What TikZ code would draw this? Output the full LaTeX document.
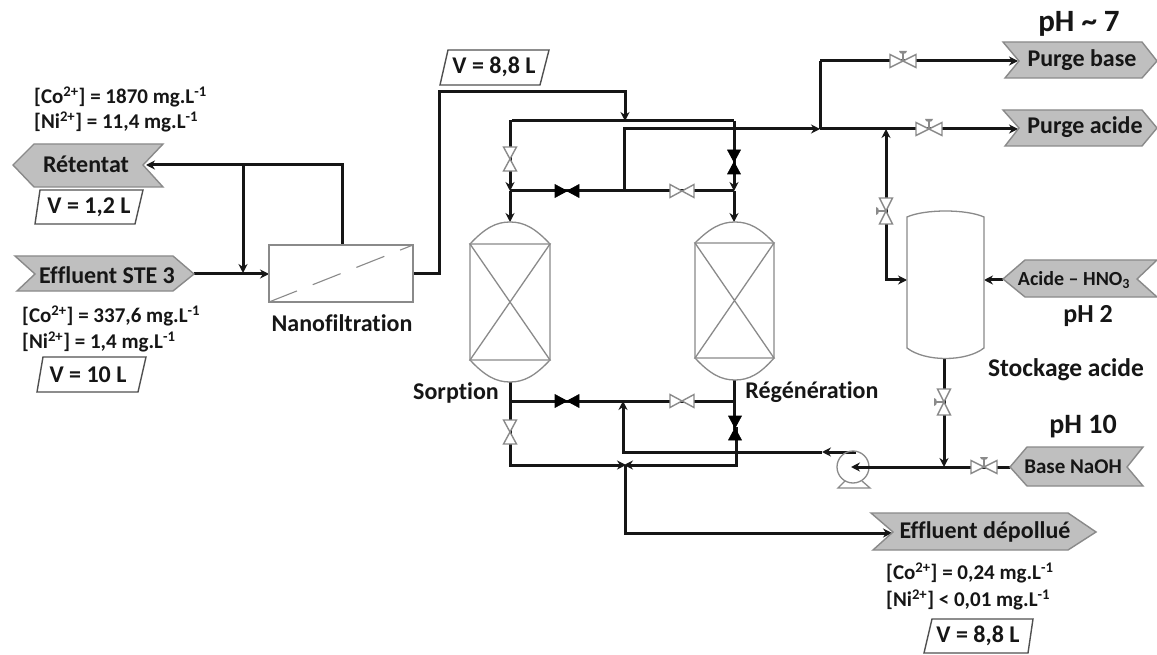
\documentclass[tikz,border=0pt]{standalone}
\usepackage{fontspec}
\setmainfont{Carlito}[BoldFont={Carlito Bold},Ligatures=NoCommon]
\usetikzlibrary{arrows.meta}
\definecolor{tagfill}{HTML}{BFBFBF}
\definecolor{edgegray}{HTML}{8A8A8A}
\definecolor{ink}{HTML}{161616}
\tikzset{
  pipe/.style={line width=3pt,draw=ink,line join=miter},
  pipea/.style={pipe,-{Stealth[length=9pt,width=9pt]}},
  tagshape/.style={fill=tagfill,draw=edgegray,line width=1.4pt,line join=miter},
  volbox/.style={fill=white,draw=ink!75,line width=1.4pt},
  vessel/.style={draw=edgegray,line width=1.3pt,fill=white},
  txt/.style={text=ink,font=\bfseries\fontsize{24}{26}\selectfont,inner sep=0pt},
  conc/.style={text=ink,font=\bfseries\fontsize{21}{24}\selectfont,inner sep=0pt,anchor=west},
  openv/.style={draw=edgegray,line width=1.4pt,fill=white,line join=miter},
  fillv/.style={draw=black,line width=.6pt,fill=black,line join=miter},
}
% name, x, y, angle, style
\newcommand{\valve}[5]{%
  \coordinate (#1) at (#2,#3);
  \begin{scope}[shift={(#2,#3)},rotate=#4]
    \draw[#5] (-12,-6.5)--(-12,6.5)--(12,-6.5)--(12,6.5)--cycle;
  \end{scope}}
\newcommand{\cvalve}[4]{%
  \coordinate (#1) at (#2,#3);
  \begin{scope}[shift={(#2,#3)},rotate=#4]
    \draw[openv] (-13,-6.5)--(-13,6.5)--(13,-6.5)--(13,6.5)--cycle;
    \draw[edgegray,line width=1.1pt] (0,0)--(0,-10);
    \fill[edgegray] (-4,-10) arc (180:0:4 and 3)--cycle;
  \end{scope}}
\begin{document}
\begin{tikzpicture}[x=1pt,y=-1pt]
\useasboundingbox (0,0) rectangle (1157,655);
\fill[white] (0,0) rectangle (1157,655);

% ---- coordinates
\coordinate (retT) at (146,165);
\coordinate (nfTop) at (342,245);
\coordinate (nfCorner) at (342,165);
\coordinate (bypass) at (243,165);
\coordinate (bypassEnd) at (243,273);
\coordinate (steOut) at (194,274);
\coordinate (nfIn) at (269,274);
\coordinate (nfOut) at (413,274);
\coordinate (c1) at (439,274);
\coordinate (c2) at (439,92);
\coordinate (c3) at (625,92);
\coordinate (c4) at (625,121);
\coordinate (topL) at (512,121);
\coordinate (topR) at (734,121);
\coordinate (topL2) at (510,120);
\coordinate (jTL) at (510,191);
\coordinate (jTR) at (734,191);
\coordinate (jTM) at (624,191);
\coordinate (vesLT) at (510,222);
\coordinate (vesRT) at (734,222);
\coordinate (pu1) at (624,129);
\coordinate (jPurge) at (820,129);
\coordinate (pb1) at (820,61);
\coordinate (pbEnd) at (1018,61);
\coordinate (paEnd) at (1018,129);
\coordinate (jTank) at (886,129);
\coordinate (t0) at (886,211);
\coordinate (t1) at (886,280);
\coordinate (tankIn) at (907,280);
\coordinate (tankIn2) at (984,280);
\coordinate (acTip) at (1003,280);
\coordinate (tankOut) at (944,359);
\coordinate (jBase) at (944,467);
\coordinate (bTip) at (1010,467);
\coordinate (pumpC) at (851,467);
\coordinate (pumpO) at (856,452);
\coordinate (pumpA) at (822,452);
\coordinate (r1) at (623,452);
\coordinate (jBM) at (623,401);
\coordinate (vesLB) at (510,382);
\coordinate (vesRB) at (734,380);
\coordinate (jBL) at (510,401);
\coordinate (jBR) at (734,401);
\coordinate (l1) at (510,465);
\coordinate (l2) at (736,465);
\coordinate (mid) at (625,465);
\coordinate (e1) at (625,533);
\coordinate (eEnd) at (892,533);

% ---- pipes
\draw[pipea] (nfTop)--(nfCorner)--(retT);
\draw[pipea] (bypass)--(bypassEnd);
\draw[pipea] (steOut)--(nfIn);
\draw[pipea] (nfOut)--(c1)--(c2)--(c3)--(c4);
\draw[pipe] (topL)--(topR);
\draw[pipea] (topL2)--(jTL);
\draw[pipea] (jTL)--(vesLT);
\draw[pipea] (topR)--(jTR);
\draw[pipea] (jTR)--(vesRT);
\draw[pipe] (jTL)--(jTR);
\draw[pipea] (jTM)--(pu1)--(jPurge);
\draw[pipe] (jPurge)--(pb1);
\draw[pipea] (pb1)--(pbEnd);
\draw[pipea] (jPurge)--(paEnd);
\draw[pipea] (t0)--(jTank);
\draw[pipea] (t0)--(t1)--(tankIn);
\draw[pipea] (acTip)--(tankIn2);
\draw[pipea] (tankOut)--(jBase);
\draw[pipea] (pumpO)--(pumpA);
\draw[pipea] (pumpA)--(r1)--(jBM);
\draw[pipe] (jBL)--(jBR);
\draw[pipea] (vesLB)--(l1)--(626,465);
\draw[pipea] (vesRB)--(734,428)--(736,428)--(l2)--(624,465);
\draw[pipea] (mid)--(e1)--(eEnd);

% ---- vessels
\draw[vessel] (470,244) .. controls (485,228) and (496,222) .. (510,222) .. controls (524,222) and (535,228) .. (550,244)
  -- (550,360) .. controls (535,376) and (524,382) .. (510,382) .. controls (496,382) and (485,376) .. (470,360) -- cycle;
\draw[vessel] (470,244)--(550,244)--(470,360)--(550,360)--cycle;
\draw[vessel] (695,243) .. controls (710,228) and (721,222) .. (735,222) .. controls (749,222) and (760,228) .. (774,243)
  -- (774,358) .. controls (760,374) and (749,380) .. (735,380) .. controls (721,380) and (710,374) .. (695,358) -- cycle;
\draw[vessel] (695,243)--(774,243)--(695,358)--(774,358)--cycle;
\draw[vessel] (907,217) .. controls (925,209) and (966,209) .. (984,217) -- (984,348) .. controls (966,362) and (925,362) .. (907,348) -- cycle;

% ---- nanofiltration box
\draw[vessel] (269,245) rectangle (413,302);
\draw[edgegray,line width=1.1pt,dash pattern=on 30pt off 17pt] (269,302)--(413,245);

% ---- pump
\draw[edgegray,line width=1.3pt] (845,481)--(838,488)--(870,488)--(862,481);
\draw[edgegray,line width=1.3pt] (853,467) circle (16);
\draw[pipea] (bTip)--(pumpC);

% ---- valves
\valve{vTL}{510}{159}{90}{openv}
\valve{vTmL}{567}{191}{0}{fillv}
\valve{vTmR}{682}{191}{0}{openv}
\valve{vTR}{734}{162}{90}{fillv}
\valve{vBmL}{567}{401}{0}{fillv}
\valve{vBmR}{682}{401}{0}{openv}
\valve{vBL}{510}{432}{90}{openv}
\valve{vBR}{735}{428}{90}{fillv}
\cvalve{vPB}{903}{61}{0}
\cvalve{vPA}{929}{129}{0}
\cvalve{vT1}{886}{211}{90}
\cvalve{vT2}{944}{402}{90}
\cvalve{vB}{984}{467}{0}

% ---- tags
\draw[tagshape] (13,165)--(34,144)--(163,144)--(143,165)--(163,187)--(34,187)--cycle;
\node[txt] (tagRet) at (86,164) {Rétentat};
\draw[tagshape] (15,256)--(173,256)--(194,274)--(173,291)--(17,291)--(35,274)--cycle;
\node[txt] (tagSTE) at (107,275) {Effluent STE 3};
\draw[tagshape] (1003,42)--(1142,42)--(1157,61)--(1142,78)--(1005,78)--(1019,61)--cycle;
\node[txt] (tagPB) at (1082,60) {Purge base};
\draw[tagshape] (1003,110)--(1142,110)--(1157,128)--(1142,146)--(1005,146)--(1019,128)--cycle;
\node[txt] (tagPA) at (1085,127) {Purge acide};
\draw[tagshape] (1003,279)--(1025,260)--(1157,260)--(1137,279)--(1157,297)--(1025,297)--cycle;
\node[txt,font=\bfseries\fontsize{20}{22}\selectfont] (tagAc) at (1074,280) {Acide – HNO\textsubscript{3}};
\draw[tagshape] (1010,467)--(1027,447)--(1143,447)--(1127,467)--(1143,486)--(1027,486)--cycle;
\node[txt,font=\bfseries\fontsize{21}{24}\selectfont] (tagB) at (1073,467) {Base NaOH};
\draw[tagshape] (871,513)--(1068,513)--(1096,532)--(1068,550)--(873,550)--(893,532)--cycle;
\node[txt] (tagE) at (985,532) {Effluent dépollué};

% ---- volume boxes
\draw[volbox] (40,190)--(143,190)--(135,224)--(35,224)--cycle;
\node[txt] (v1) at (89,207) {V = 1,2 L};
\draw[volbox] (43,357)--(146,357)--(138,392)--(37,392)--cycle;
\node[txt] (v2) at (88,375) {V = 10 L};
\draw[volbox] (448,50)--(549,50)--(540,85)--(440,85)--cycle;
\node[txt] (v3) at (494,67) {V = 8,8 L};
\draw[volbox] (932,619)--(1033,619)--(1028,653)--(924,653)--cycle;
\node[txt] (v4) at (978,636) {V = 8,8 L};

% ---- texts
\node[conc] (c1a) at (34,97) {[Co\textsuperscript{2+}] = 1870 mg.L\textsuperscript{-1}};
\node[conc] (c1b) at (34,122) {[Ni\textsuperscript{2+}] = 11,4 mg.L\textsuperscript{-1}};
\node[conc] (c2a) at (22,316) {[Co\textsuperscript{2+}] = 337,6 mg.L\textsuperscript{-1}};
\node[conc] (c2b) at (22,342) {[Ni\textsuperscript{2+}] = 1,4 mg.L\textsuperscript{-1}};
\node[conc] (c3a) at (886,573) {[Co\textsuperscript{2+}] = 0,24 mg.L\textsuperscript{-1}};
\node[conc] (c3b) at (886,600) {[Ni\textsuperscript{2+}] < 0,01 mg.L\textsuperscript{-1}};
\node[txt] (nNF) at (342,323) {Nanofiltration};
\node[txt] (nS) at (456,393) {Sorption};
\node[txt] (nR) at (812,392) {Régénération};
\node[txt,font=\bfseries\fontsize{25.5}{28}\selectfont] (nSt) at (1066,370) {Stockage acide};
\node[txt,font=\bfseries\fontsize{31}{34}\selectfont] (ph7) at (1079,24) {pH \char"007E\ 7};
\node[txt,font=\bfseries\fontsize{26}{28}\selectfont] (ph2) at (1088,316) {pH 2};
\node[txt,font=\bfseries\fontsize{28}{30}\selectfont] (ph10) at (1083,427) {pH 10};
\end{tikzpicture}
\end{document}
